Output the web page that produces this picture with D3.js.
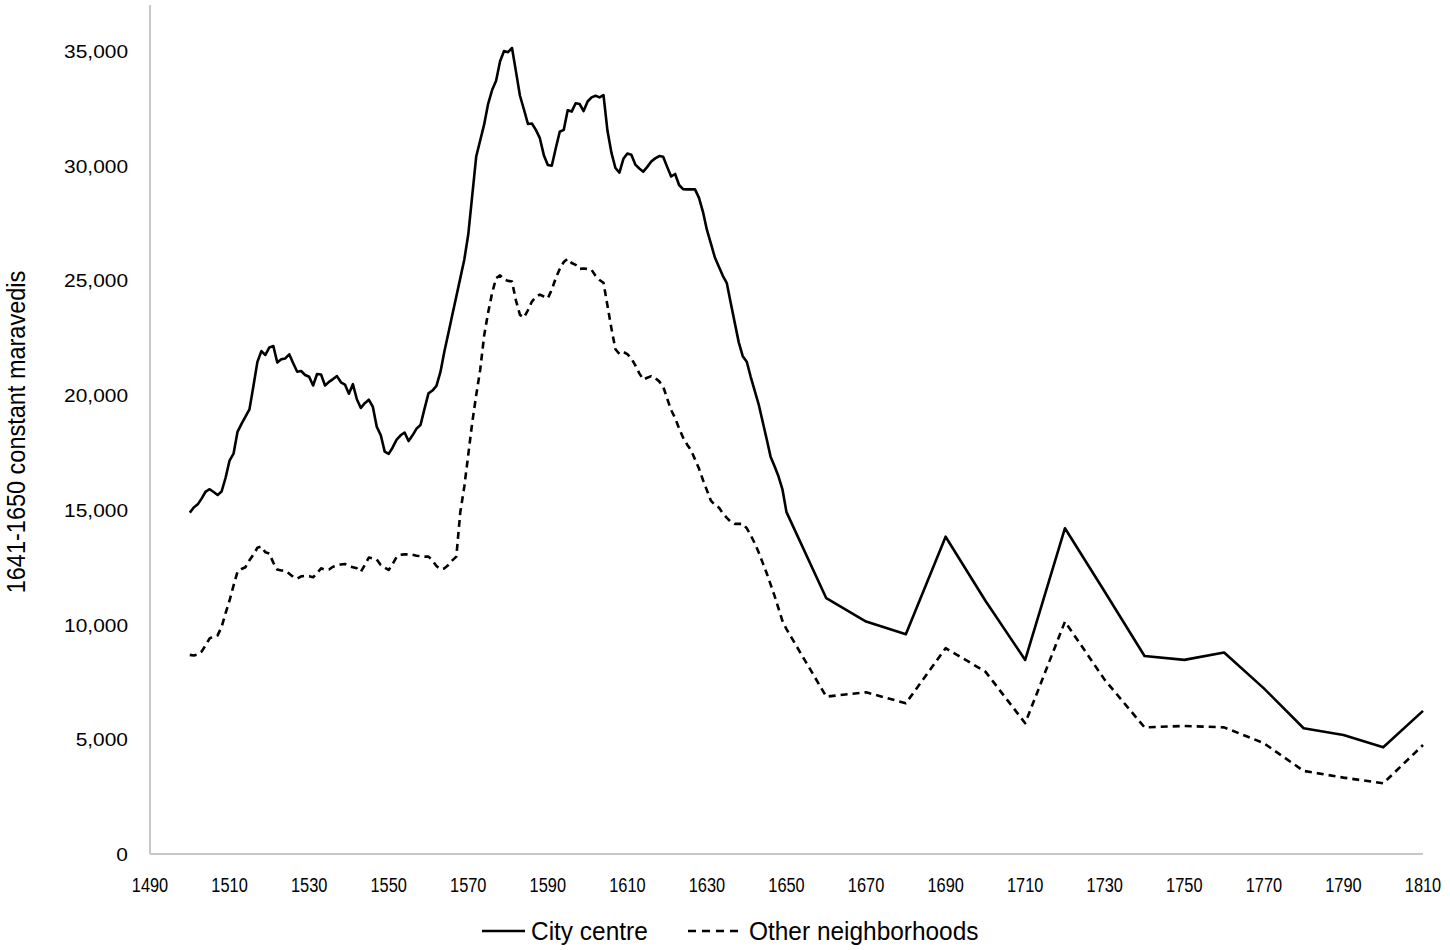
<!DOCTYPE html>
<meta charset="utf-8">
<style>
body { margin: 0; background: #fff; }
.line { fill: none; stroke: #000; stroke-width: 2.6px; stroke-linejoin: round; }
text { font-family: "Liberation Sans", Arial, sans-serif; fill: #000; }
</style>
<body>
<script src="https://d3js.org/d3.v7.min.js"></script>
<script>

// annual years 1500-1650, then every ten years to 1810
var annualYears = d3.range(1500, 1651);
var decadeYears = d3.range(1660, 1811, 10);

var cityAnnual = [
  14880, 15100, 15240, 15500, 15800, 15900, 15780, 15650, 15800, 16400,
  17150, 17450, 18400, 18750, 19060, 19380, 20400, 21450, 21920, 21750,
  22080, 22140, 21420, 21560, 21600, 21780, 21390, 21020, 21050, 20880,
  20800, 20420, 20920, 20900, 20420, 20580, 20700, 20830, 20560, 20460,
  20060, 20480, 19820, 19440, 19650, 19800, 19500, 18620, 18260, 17540,
  17440, 17720, 18060, 18250, 18370, 18000, 18250, 18540, 18700, 19400,
  20080, 20200, 20400, 21000, 21900, 22700, 23500, 24300, 25100, 25900,
  27000, 28700, 30400, 31100, 31800, 32700, 33300, 33700, 34550, 35000,
  34950, 35130, 34100, 33050, 32450, 31820, 31840, 31560, 31200, 30460,
  30030, 30000, 30760, 31480, 31560, 32420, 32360, 32720, 32690, 32380,
  32800, 32980, 33050, 32980, 33080, 31520, 30560, 29900, 29700, 30300,
  30530, 30480, 30050, 29880, 29740, 29950, 30180, 30320, 30420, 30390,
  29950, 29530, 29640, 29160, 28980, 28970, 28970, 28970, 28600, 27990,
  27200, 26600, 26000, 25600, 25200, 24880, 24000, 23150, 22300, 21700,
  21460, 20800, 20200, 19600, 18850, 18100, 17320, 16900, 16450, 15880,
  14900
];
var cityDecade = [11150, 10130, 9580, 13830, 11040, 8460, 14200, 11430,
  8630, 8460, 8780, 7220, 5480, 5190, 4650, 6240];

var otherAnnual = [
  8680, 8650, 8700, 8830, 9100, 9400, 9480, 9530, 9900, 10500,
  11050, 11700, 12300, 12420, 12500, 12800, 13050, 13350, 13400, 13150,
  13100, 12700, 12400, 12360, 12350, 12220, 12080, 12000, 12100, 12120,
  12110, 12060, 12250, 12450, 12400, 12400, 12520, 12580, 12620, 12640,
  12550, 12500, 12450, 12300, 12600, 12920, 12880, 12840, 12600, 12480,
  12380, 12640, 12950, 13040, 13060, 13060, 13040, 13000, 12980, 12960,
  12960, 12800, 12550, 12420, 12450, 12600, 12800, 12960, 14900, 16000,
  17400, 18800, 20000, 21100, 22600, 23600, 24450, 25100, 25220, 25050,
  24980, 24950, 24120, 23500, 23380, 23700, 24080, 24280, 24380, 24300,
  24220, 24600, 25100, 25500, 25800, 25940, 25760, 25680, 25500, 25520,
  25500, 25460, 25200, 25020, 24900, 23900, 22900, 22000, 21800, 21880,
  21790, 21600, 21300, 20950, 20680, 20760, 20830, 20740, 20600, 20380,
  19850, 19350, 19000, 18550, 18150, 17850, 17600, 17200, 16800, 16300,
  15850, 15400, 15220, 15100, 14850, 14650, 14480, 14390, 14390, 14390,
  14200, 13900, 13550, 13150, 12700, 12250, 11750, 11250, 10700, 10150,
  9800
];
var otherDecade = [6860, 7050, 6570, 8970, 7950, 5700, 10130, 7590,
  5520, 5580, 5520, 4830, 3620, 3330, 3080, 4750];

var yTicks = d3.range(0, 35001, 5000);
var xTicks = d3.range(1490, 1811, 20);
var seriesNames = ["City centre", "Other neighborhoods"];

var years = annualYears.concat(decadeYears);
var city = cityAnnual.concat(cityDecade);
var other = otherAnnual.concat(otherDecade);

var W = 1450, H = 950;
var left = 150, right = 1423, bottom = 854;

var svg = d3.select("body").append("svg")
    .attr("width", W)
    .attr("height", H);

var x = d3.scaleLinear().domain([1490, 1810]).range([left, right]);
var y = d3.scaleLinear().domain([0, 35000]).range([bottom, 51]);

// axes lines (light grey, no ticks)
svg.append("line")
    .attr("x1", left).attr("x2", left)
    .attr("y1", y(37000)).attr("y2", bottom)
    .attr("stroke", "#c8c8c8").attr("stroke-width", 2);
svg.append("line")
    .attr("x1", left).attr("x2", right)
    .attr("y1", bottom).attr("y2", bottom)
    .attr("stroke", "#c8c8c8").attr("stroke-width", 2);

// y labels
var fmt = d3.format(",");
svg.selectAll(".ylab").data(yTicks).enter().append("text")
    .attr("class", "ylab")
    .attr("transform", function(d) { return "translate(128," + (y(d) + 7) + ") scale(1.1,1)"; })
    .attr("text-anchor", "end")
    .style("font-size", "19px")
    .text(function(d) { return fmt(d); });

// x labels
svg.selectAll(".xlab").data(xTicks).enter().append("text")
    .attr("class", "xlab")
    .attr("transform", function(d) { return "translate(" + x(d) + ",892) scale(0.78,1)"; })
    .attr("text-anchor", "middle")
    .style("font-size", "21px")
    .text(function(d) { return d; });

// y axis title
svg.append("text")
    .attr("transform", "translate(25,432) rotate(-90) scale(0.94,1)")
    .attr("text-anchor", "middle")
    .style("font-size", "25px")
    .text("1641-1650 constant maravedis");

// lines
var line = d3.line()
    .x(function(d, i) { return x(years[i]); })
    .y(function(d) { return y(d); });

svg.append("path").datum(city)
    .attr("class", "line")
    .attr("d", line);

svg.append("path").datum(other)
    .attr("class", "line")
    .attr("stroke-dasharray", "7,5")
    .attr("d", line);

// legend
var legend = [
  {name: seriesNames[0], x0: 482, dash: null},
  {name: seriesNames[1], x0: 688, dash: "8,6"}
];
var lg = svg.selectAll(".lg").data(legend).enter().append("g")
    .attr("transform", function(d) { return "translate(" + d.x0 + ",931)"; });
lg.append("line")
    .attr("x1", 0).attr("x2", function(d) { return d.dash ? 54 : 43; })
    .attr("y1", 0).attr("y2", 0)
    .attr("stroke", "#000").attr("stroke-width", 2.6)
    .attr("stroke-dasharray", function(d) { return d.dash; });
lg.append("text")
    .attr("transform", function(d) { return "translate(" + (d.dash ? 61 : 49) + ",9) scale(0.94,1)"; })
    .style("font-size", "26px")
    .text(function(d) { return d.name; });

</script>
</body>
